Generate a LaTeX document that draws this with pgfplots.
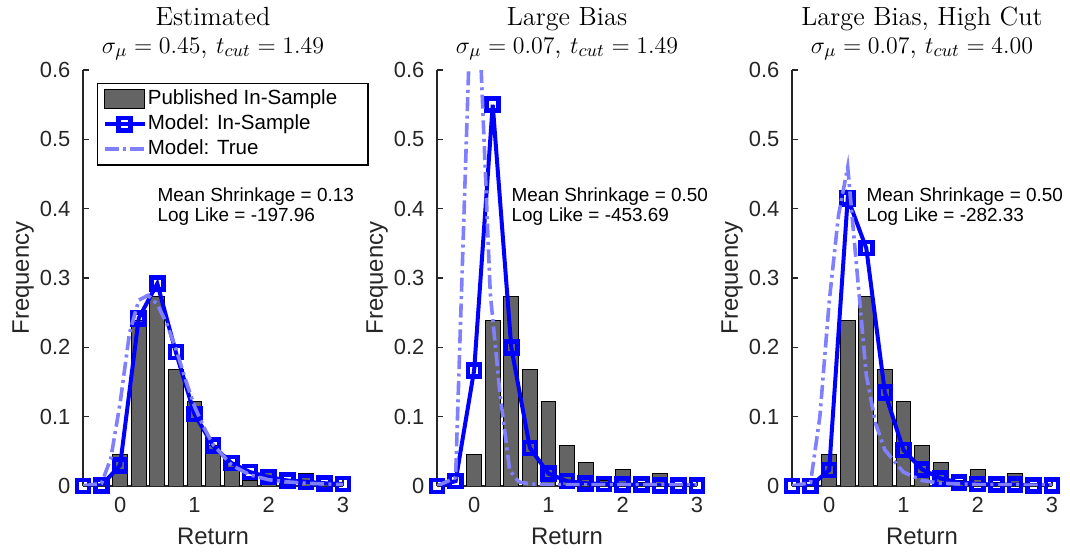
\documentclass[border=0pt]{standalone}
\usepackage{fontspec}
\newfontfamily\arial{Liberation Sans}
\usepackage{pgfplots}
\pgfplotsset{compat=1.18}
\definecolor{barfill}{RGB}{100,100,100}
\definecolor{insamp}{RGB}{0,0,255}
\definecolor{truec}{RGB}{128,128,255}
\definecolor{axgray}{RGB}{38,38,38}
\pgfplotsset{
  panel/.style={
    scale only axis, width=130bp, height=208bp,
    anchor=south west, clip mode=individual,
    xmin=-0.5, xmax=3, ymin=0, ymax=0.6,
    axis lines*=left,
    axis line style={-, draw=axgray, line width=0.8bp},
    xtick={0,1,2,3},
    ytick={0,0.1,0.2,0.3,0.4,0.5,0.6},
    tick align=inside, major tick length=3bp,
    tick style={draw=axgray, line width=0.7bp},
    ticklabel style={font=\arial\fontsize{11}{13}\selectfont, text=axgray},
    /pgf/number format/assume math mode=true,
    yticklabel style={/pgf/number format/.cd, fixed, precision=1, /tikz/.cd, xshift=-2.8bp},
    xticklabel style={yshift=-2.3bp},
    xlabel={Return}, ylabel={Frequency},
    label style={font=\arial\fontsize{12}{14}\selectfont, text=axgray},
    xlabel style={at={(axis description cs:0.5,-0.1418)}, anchor=base},
    ylabel style={at={(axis description cs:-0.208,0.5)}, anchor=base, rotate=0},
  },
  bars/.style={ybar, bar width=0.2, fill=barfill, draw=black, line width=0.5bp,
    legend image code/.code={\draw[#1] (0bp,-4.75bp) rectangle (20bp,4.75bp);}},
  ins/.style={color=insamp, line width=2bp, mark=square, mark size=3bp,
    mark options={solid, line width=2.3bp},
    legend image code/.code={\draw[mark repeat=2,mark phase=2,#1] plot coordinates {(0bp,0bp) (10bp,0bp) (20bp,0bp)};}},
  tru/.style={color=truec, line width=1.8bp, no markers,
    dash pattern=on 7bp off 2.2bp on 1.5bp off 2.2bp,
    legend image code/.code={\draw[#1] (0bp,0bp) -- (20bp,0bp);}},
}
\newcommand{\ttl}[2]{%
  \node[anchor=base, inner sep=0, yshift=22.5bp, font=\fontsize{13.2}{15}\selectfont] at (rel axis cs:0.5,1) {#1};
  \node[anchor=base, inner sep=0, yshift=8.5bp, font=\fontsize{13.2}{15}\selectfont] at (rel axis cs:0.5,1) {#2};}
\newcommand{\ann}[2]{%
  \node[anchor=west, align=left, inner sep=0, font=\arial\fontsize{9.5}{10.5}\selectfont] at (axis cs:0.5,0.403) {Mean Shrinkage = #1\\Log Like = #2};}
\begin{document}
\begin{tikzpicture}
\useasboundingbox (0,0) rectangle (535bp,276.5bp);
% Panel 1
\begin{axis}[panel, at={(41.5bp,33.5bp)},
  legend style={at={(0.054,0.969)}, anchor=north west, draw=black, line width=0.6bp,
    fill=white, inner xsep=2.5bp, inner ysep=2.5bp,
    font=\arial\fontsize{10.3}{12}\selectfont,
    nodes={inner sep=0.6bp, text height=7.2bp, text depth=2.3bp},
    row sep=1.8bp},
  legend cell align=left]
\addplot[bars] coordinates {(0,0.046) (0.25,0.238) (0.5,0.273) (0.75,0.168) (1,0.122) (1.25,0.058) (1.5,0.034) (1.75,0.008) (2,0.024) (2.25,0.005) (2.5,0.018) (2.75,0.003)};
\addlegendentry{\makebox[107bp][l]{Published In-Sample}}
\addplot[ins] coordinates {(-0.5,0) (-0.25,0.001) (0,0.030) (0.25,0.242) (0.5,0.292) (0.75,0.193) (1,0.104) (1.25,0.058) (1.5,0.033) (1.75,0.020) (2,0.013) (2.25,0.008) (2.5,0.006) (2.75,0.004) (3,0.003)};
\addlegendentry{Model: In-Sample}
\addplot[tru] coordinates {(-0.5,0) (-0.25,0.004) (-0.125,0.04) (0,0.12) (0.125,0.22) (0.25,0.268) (0.375,0.275) (0.5,0.262) (0.625,0.235) (0.75,0.198) (0.875,0.155) (1,0.115) (1.125,0.085) (1.25,0.06) (1.5,0.03) (1.75,0.016) (2,0.009) (2.25,0.006) (2.5,0.004) (2.75,0.003) (3,0.002)};
\addlegendentry{Model: True}
\ttl{Estimated}{$\sigma_\mu = 0.45$, $t_{cut} = 1.49$}
\ann{0.13}{-197.96}
\end{axis}
% Panel 2
\begin{axis}[panel, at={(218.5bp,33.5bp)}]
\addplot[bars] coordinates {(0,0.046) (0.25,0.238) (0.5,0.273) (0.75,0.168) (1,0.122) (1.25,0.058) (1.5,0.034) (1.75,0.008) (2,0.024) (2.25,0.005) (2.5,0.018) (2.75,0.003)};
\addplot[ins] coordinates {(-0.5,0) (-0.25,0.007) (0,0.167) (0.25,0.55) (0.5,0.2) (0.75,0.055) (1,0.018) (1.25,0.007) (1.5,0.004) (1.75,0.003) (2,0.002) (2.25,0.002) (2.5,0.001) (2.75,0.001) (3,0.001)};
\addplot[tru] coordinates {(-0.5,0) (-0.25,0.012) (0,0.85) (0.217,0.278) (0.348,0.133) (0.478,0.023) (0.6,0.006) (0.75,0.003) (1,0.002) (2,0.002) (3,0.002)};
\ttl{Large Bias}{$\sigma_\mu = 0.07$, $t_{cut} = 1.49$}
\ann{0.50}{-453.69}
\end{axis}
% Panel 3
\begin{axis}[panel, at={(396bp,33.5bp)}]
\addplot[bars] coordinates {(0,0.046) (0.25,0.238) (0.5,0.273) (0.75,0.168) (1,0.122) (1.25,0.058) (1.5,0.034) (1.75,0.008) (2,0.024) (2.25,0.005) (2.5,0.018) (2.75,0.003)};
\addplot[ins] coordinates {(-0.5,0) (-0.25,0) (0,0.023) (0.25,0.415) (0.5,0.343) (0.75,0.135) (1,0.052) (1.25,0.024) (1.5,0.011) (1.75,0.005) (2,0.003) (2.25,0.002) (2.5,0.002) (2.75,0.001) (3,0.001)};
\addplot[tru] coordinates {(-0.5,0) (-0.25,0.005) (-0.125,0.1) (0,0.265) (0.125,0.39) (0.25,0.46) (0.375,0.31) (0.5,0.16) (0.625,0.09) (0.75,0.052) (1,0.02) (1.25,0.008) (1.5,0.004) (2,0.002) (3,0.001)};
\ttl{Large Bias, High Cut}{$\sigma_\mu = 0.07$, $t_{cut} = 4.00$}
\ann{0.50}{-282.33}
\end{axis}
\end{tikzpicture}
\end{document}
